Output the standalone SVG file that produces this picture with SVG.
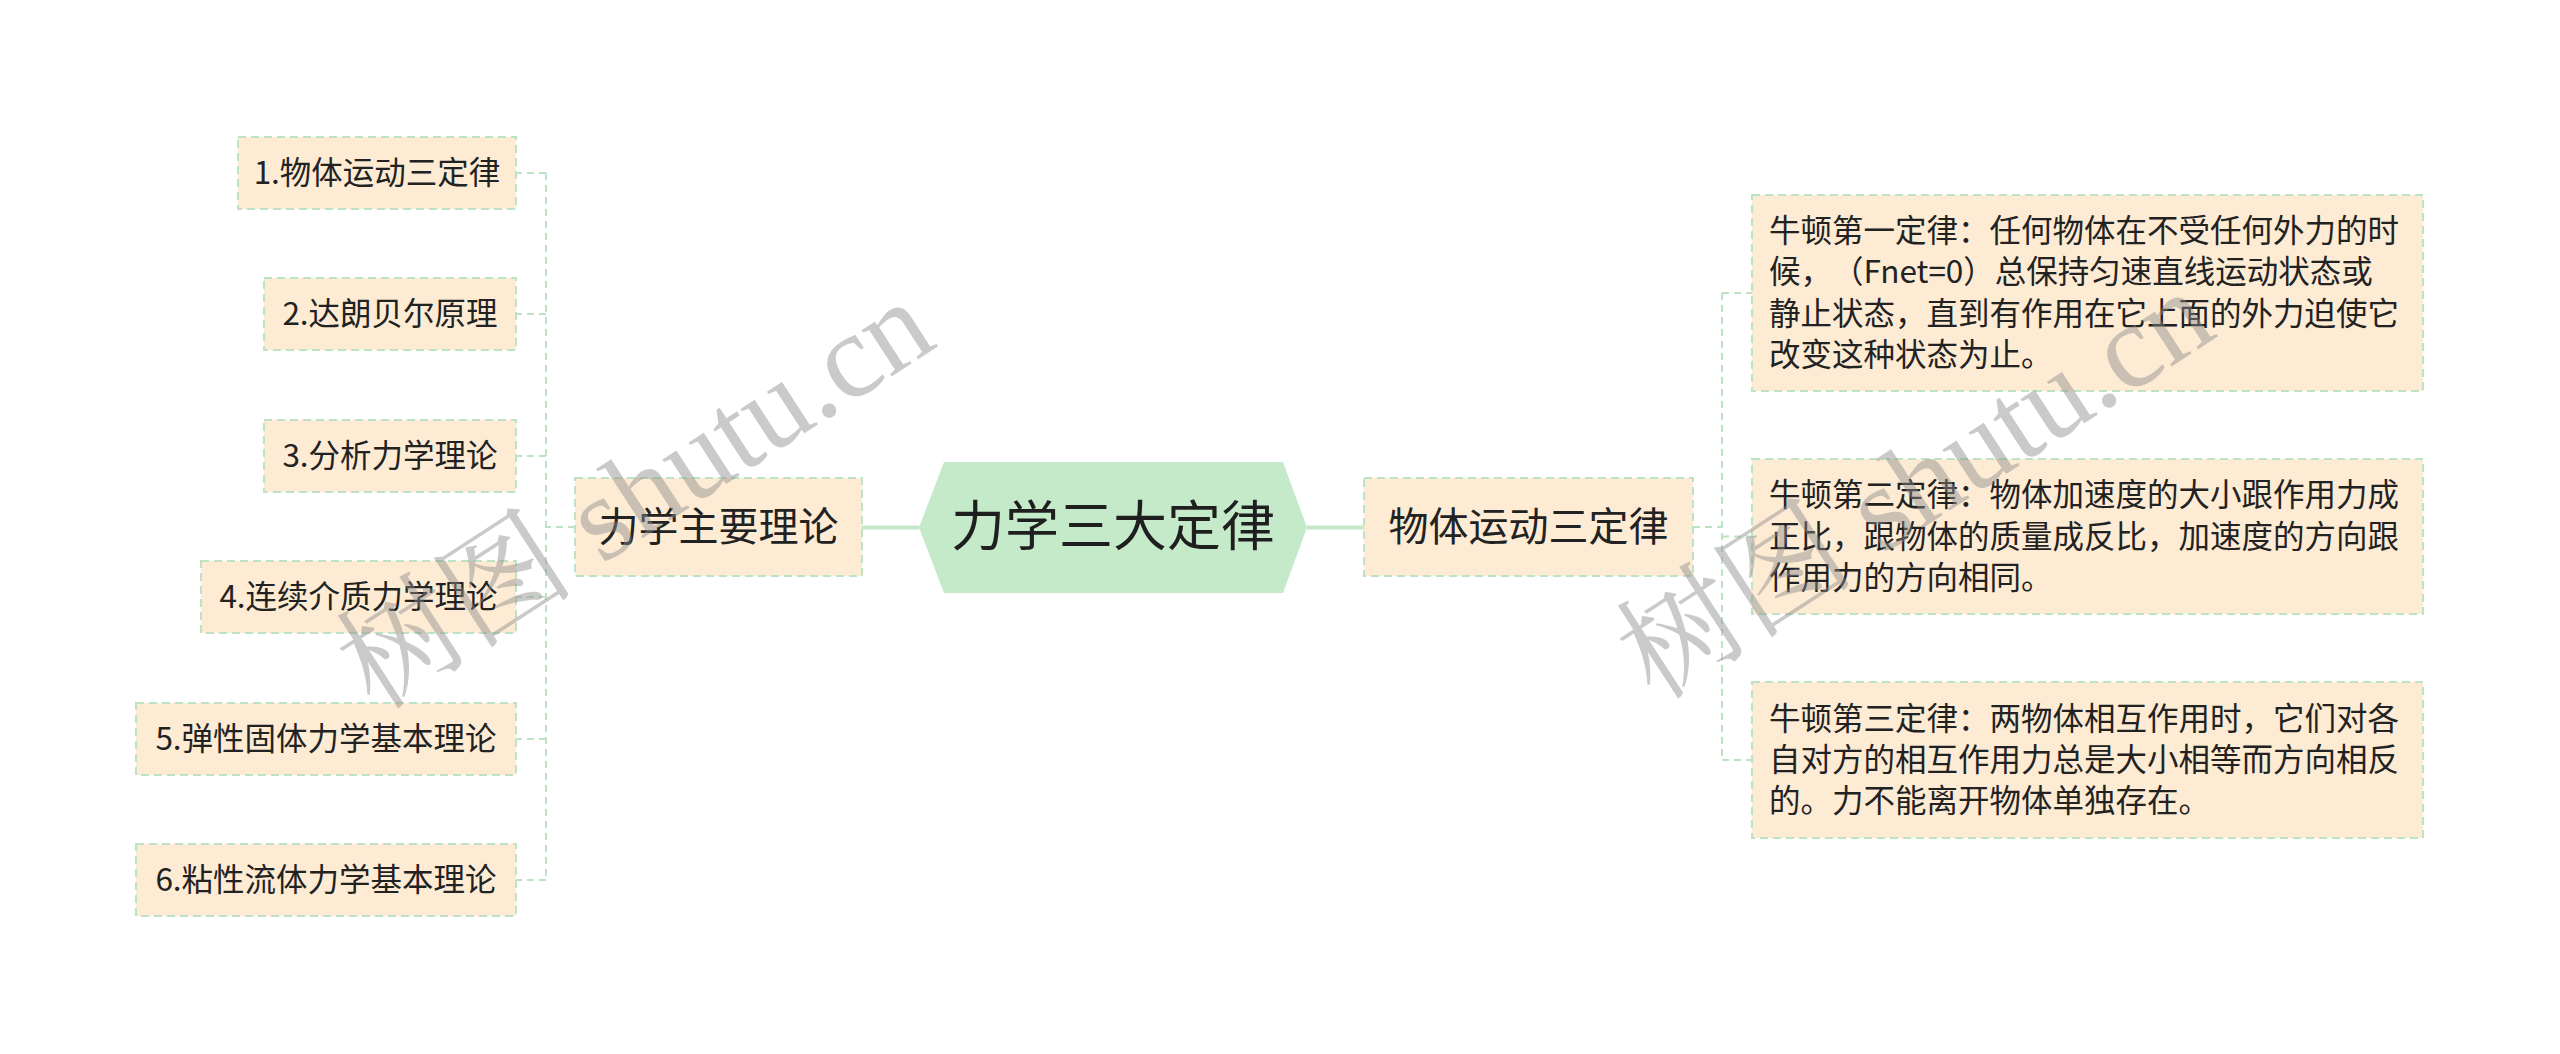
<svg xmlns="http://www.w3.org/2000/svg" width="2560" height="1054" viewBox="0 0 2560 1054">
<style>
.box{fill:#fdebd4;stroke:#bde3c4;stroke-width:2;stroke-dasharray:8 5}
.t{font-family:"Noto Sans CJK SC","Noto Sans",sans-serif;fill:#222222}
.s{font-size:31.5px}
.m{font-size:40px}
.c{font-size:54px;fill:#1f1f1f}
.dash{fill:none;stroke:#bde3c4;stroke-width:2;stroke-dasharray:7 5}
.solid{fill:none;stroke:#c5e8c9;stroke-width:4}
.wm{font-family:"Liberation Serif","Noto Serif CJK SC","Noto Sans CJK SC",serif;font-size:120px;fill:#8c8c8c;opacity:0.45}
</style>
<rect width="2560" height="1054" fill="#ffffff"/>
<g id="connectors">
<path class="solid" d="M919 527.5H862M1307 527.5H1364"/>
<path class="dash" d="M575 527H546M546 173V880M546 173H516M546 314H516M546 456H516M546 597H516M546 739H516M546 880H516"/>
<path class="dash" d="M1693 527H1722M1722 293V760M1722 293H1752M1722 536.5H1752M1722 760H1752"/>
</g>
<g id="center">
<polygon points="919,527.5 944,462 1283,462 1307,527.5 1283,593 944,593" fill="#c5eaca"/>
<text class="t c" x="1113" y="546" text-anchor="middle">力学三大定律</text>
</g>
<g id="main-left">
<rect class="box" x="575" y="478" width="287" height="98"/>
<text class="t m" x="718.5" y="541" text-anchor="middle">力学主要理论</text>
</g>
<g id="main-right">
<rect class="box" x="1364" y="478" width="329" height="98"/>
<text class="t m" x="1528.5" y="541" text-anchor="middle">物体运动三定律</text>
</g>
<g id="l1"><rect class="box" x="238" y="137" width="278" height="72"/><text class="t s" x="377" y="184" text-anchor="middle">1.物体运动三定律</text></g>
<g id="l2"><rect class="box" x="264" y="278" width="252" height="72"/><text class="t s" x="390" y="325" text-anchor="middle">2.达朗贝尔原理</text></g>
<g id="l3"><rect class="box" x="264" y="420" width="252" height="72"/><text class="t s" x="390" y="467" text-anchor="middle">3.分析力学理论</text></g>
<g id="l4"><rect class="box" x="201" y="561" width="315" height="72"/><text class="t s" x="358.5" y="608" text-anchor="middle">4.连续介质力学理论</text></g>
<g id="l5"><rect class="box" x="136" y="703" width="380" height="72"/><text class="t s" x="326" y="750" text-anchor="middle">5.弹性固体力学基本理论</text></g>
<g id="l6"><rect class="box" x="136" y="844" width="380" height="72"/><text class="t s" x="326" y="891" text-anchor="middle">6.粘性流体力学基本理论</text></g>
<g id="r1"><rect class="box" x="1752" y="195" width="671" height="196"/>
<text class="t s" x="1769" y="242">牛顿第一定律：任何物体在不受任何外力的时</text>
<text class="t s" y="283"><tspan x="1769">候，</tspan><tspan x="1832">（Fnet=0）总保持匀速直线运动状态或</tspan></text>
<text class="t s" x="1769" y="325">静止状态，直到有作用在它上面的外力迫使它</text>
<text class="t s" x="1769" y="366">改变这种状态为止。</text></g>
<g id="r2"><rect class="box" x="1752" y="459" width="671" height="155"/>
<text class="t s" x="1769" y="506">牛顿第二定律：物体加速度的大小跟作用力成</text>
<text class="t s" x="1769" y="548">正比，跟物体的质量成反比，加速度的方向跟</text>
<text class="t s" x="1769" y="589">作用力的方向相同。</text></g>
<g id="r3"><rect class="box" x="1752" y="682" width="671" height="156"/>
<text class="t s" x="1769" y="730">牛顿第三定律：两物体相互作用时，它们对各</text>
<text class="t s" x="1769" y="771">自对方的相互作用力总是大小相等而方向相反</text>
<text class="t s" x="1769" y="812">的。力不能离开物体单独存在。</text></g>
<g id="watermark">
<text class="wm" x="375" y="712" transform="rotate(-33 375 712)">树图 shutu.cn</text>
<text class="wm" x="1655" y="702" transform="rotate(-33 1655 702)">树图 shutu.cn</text>
</g>
</svg>
